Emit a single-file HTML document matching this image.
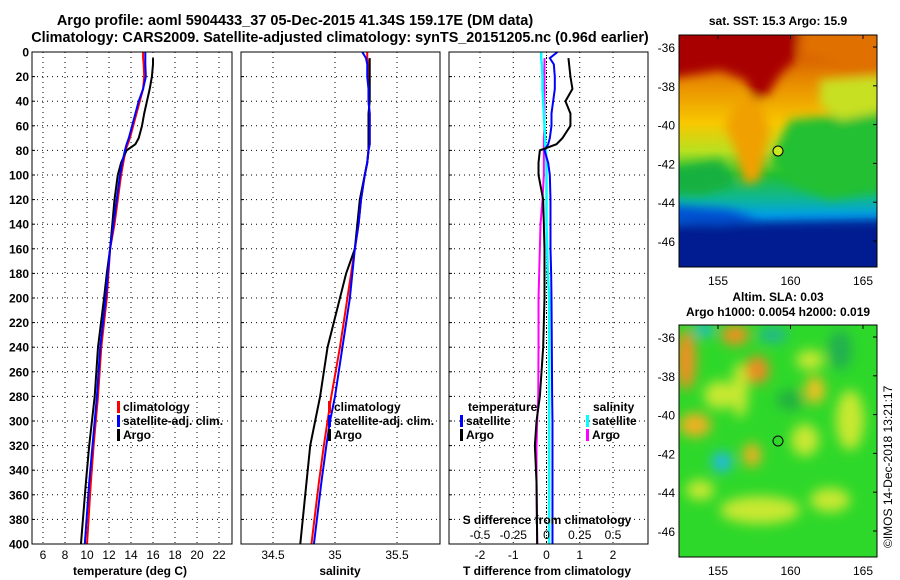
<!DOCTYPE html>
<html><head><meta charset="utf-8"><style>
body{margin:0;background:#fff;}
svg{display:block;font-family:"Liberation Sans",sans-serif;font-weight:bold;}
text{fill:#000;}
</style></head><body>
<svg id="c" width="900" height="580" viewBox="0 0 900 580">
<defs>
<filter id="bl" x="-50%" y="-50%" width="200%" height="200%"><feGaussianBlur stdDeviation="6"/></filter>
<filter id="bl2" x="-50%" y="-50%" width="200%" height="200%"><feGaussianBlur stdDeviation="5"/></filter>
<linearGradient id="sstg" x1="0" y1="0" x2="0" y2="1">
<stop offset="0" stop-color="#c83a00"/><stop offset="0.2" stop-color="#e88a00"/><stop offset="0.38" stop-color="#f8c800"/>
<stop offset="0.5" stop-color="#b8e020"/><stop offset="0.6" stop-color="#22c030"/><stop offset="0.7" stop-color="#10b890"/>
<stop offset="0.78" stop-color="#00a0e8"/><stop offset="0.86" stop-color="#0050d0"/><stop offset="0.94" stop-color="#001890"/><stop offset="1" stop-color="#001080"/>
</linearGradient>
<clipPath id="m1"><rect x="679" y="35" width="198" height="232"/></clipPath>
<clipPath id="m2"><rect x="679" y="325" width="198" height="232"/></clipPath>
</defs>
<text x="295" y="25" font-size="14.5" text-anchor="middle">Argo profile: aoml 5904433_37 05-Dec-2015 41.34S 159.17E (DM data)</text>
<text x="340" y="42" font-size="14.4" text-anchor="middle">Climatology: CARS2009. Satellite-adjusted climatology: synTS_20151205.nc (0.96d earlier)</text>
<g id="panels"></g>
<g>
<text x="778" y="25" font-size="12" text-anchor="middle">sat. SST: 15.3 Argo: 15.9</text>
<g clip-path="url(#m1)">
<rect x="679" y="35" width="198" height="232" fill="url(#sstg)"/>
<g filter="url(#bl2)">
<path d="M660 20 H800 L795 60 L780 75 L768 95 L755 100 L745 80 L720 70 L690 75 L660 80Z" fill="#a80000"/>
<path d="M800 20 H890 V70 L850 75 L820 60 L800 55Z" fill="#e07000"/>
<path d="M740 95 L760 100 L770 130 L760 180 L745 185 L735 150 L725 125Z" fill="#f0a000"/>
<path d="M790 120 L890 110 V190 L830 200 L790 185 L770 160Z" fill="#20c030"/>
<path d="M820 80 L890 75 V110 L840 120 L820 105Z" fill="#c8e020"/>
<path d="M660 170 L720 160 L735 185 L700 195 L660 192Z" fill="#18b040"/>
<path d="M660 225 L890 220 V290 H660Z" fill="#001a90"/>
<path d="M660 205 L730 210 L760 220 L720 225 L660 222Z" fill="#0050d0"/>
</g>
</g>
<rect x="679" y="35" width="198" height="232" fill="none" stroke="#000"/>
<circle cx="778" cy="151" r="5" fill="#c8e820" stroke="#000"/>
</g>
<g>
<text x="778" y="301" font-size="12" text-anchor="middle">Altim. SLA: 0.03</text>
<text x="778" y="316" font-size="12" text-anchor="middle">Argo h1000: 0.0054 h2000: 0.019</text>
<g clip-path="url(#m2)">
<rect x="679" y="325" width="198" height="232" fill="#2ed82a"/>
<g filter="url(#bl)">
<ellipse cx="686" cy="360" rx="10" ry="30" fill="#f09020"/>
<ellipse cx="735" cy="335" rx="14" ry="10" fill="#f09020"/>
<ellipse cx="757" cy="370" rx="12" ry="14" fill="#ee8a20"/>
<ellipse cx="815" cy="390" rx="10" ry="14" fill="#f0c020"/>
<ellipse cx="695" cy="425" rx="16" ry="12" fill="#f0b020"/>
<ellipse cx="752" cy="455" rx="9" ry="12" fill="#f0b020"/>
<ellipse cx="722" cy="462" rx="10" ry="10" fill="#20b8e8"/>
<ellipse cx="773" cy="335" rx="15" ry="8" fill="#20b890"/>
<ellipse cx="704" cy="330" rx="10" ry="6" fill="#20b8e0"/>
<ellipse cx="805" cy="440" rx="14" ry="16" fill="#c8e830"/>
<ellipse cx="720" cy="395" rx="16" ry="14" fill="#c8e830"/>
<ellipse cx="740" cy="390" rx="8" ry="28" fill="#c8e830"/>
<ellipse cx="850" cy="420" rx="14" ry="30" fill="#c8e830"/>
<ellipse cx="760" cy="510" rx="40" ry="14" fill="#c8e830"/>
<ellipse cx="830" cy="500" rx="20" ry="12" fill="#c8e830"/>
<ellipse cx="810" cy="360" rx="14" ry="10" fill="#c8e830"/>
<ellipse cx="700" cy="490" rx="14" ry="10" fill="#c8e830"/>
<ellipse cx="790" cy="400" rx="14" ry="10" fill="#20b040"/>
<ellipse cx="840" cy="350" rx="12" ry="20" fill="#20b050"/>
</g>
</g>
<rect x="679" y="325" width="198" height="232" fill="none" stroke="#000"/>
<circle cx="778" cy="441" r="5" fill="none" stroke="#000"/>
<text transform="translate(892,548) rotate(-90)" font-size="12" font-weight="normal">©IMOS 14-Dec-2018 13:21:17</text>
</g>
<g id="mapaxes"></g>
</svg>
<script>
// depth levels (m)
const depths = [0,5,10,20,30,40,50,60,70,75,80,90,100,120,140,160,180,200,240,280,300,320,350,400];
// temperature (deg C)
const tempClim = [15.1,15.1,15.15,15.2,15.1,14.8,14.5,14.2,13.9,13.7,13.5,13.3,13.1,12.8,12.5,12.1,11.95,11.8,11.3,11.0,10.8,10.6,10.35,10.0];
const tempSat  = [15.3,15.3,15.3,15.35,15.1,14.7,14.4,14.1,13.8,13.6,13.45,13.2,13.0,12.7,12.4,12.1,11.9,11.7,11.2,10.9,10.7,10.5,10.2,9.8];
const tempArgo = [null,16.0,16.0,15.9,15.7,15.45,15.2,15.0,14.7,14.4,13.6,13.1,12.8,12.5,12.3,12.1,11.8,11.55,11.0,10.7,10.45,10.2,9.9,9.45];
// salinity (PSU)
const salClim = [35.26,35.26,35.27,35.27,35.27,35.27,35.28,35.28,35.28,35.28,35.27,35.26,35.24,35.21,35.19,35.16,35.13,35.10,35.04,34.97,34.94,34.91,34.87,34.81];
const salSat  = [35.22,35.25,35.26,35.26,35.27,35.27,35.28,35.28,35.28,35.28,35.27,35.26,35.24,35.21,35.19,35.16,35.14,35.12,35.06,35.00,34.96,34.93,34.89,34.83];
const salArgo = [null,35.28,35.28,35.28,35.28,35.28,35.27,35.27,35.27,35.27,35.27,35.26,35.24,35.20,35.18,35.16,35.09,35.04,34.94,34.88,34.84,34.80,34.77,34.72];
// differences from climatology
const tdiffSat  = [0.33,0.1,0.22,0.25,0.25,0.2,0.15,0.15,0.1,0.05,-0.06,0.05,0.1,0.12,0.12,0.12,0.14,0.15,0.16,0.17,0.18,0.18,0.18,0.18];
const tdiffArgo = [null,0.66,0.68,0.72,0.78,0.57,0.72,0.72,0.48,0.3,-0.2,-0.24,-0.24,-0.1,-0.08,-0.06,-0.06,-0.06,-0.1,-0.2,-0.3,-0.35,-0.3,-0.28];
const sdiffSat  = [-0.04,-0.04,-0.035,-0.03,-0.03,-0.025,-0.02,-0.015,-0.01,-0.01,-0.005,0,0,0,0,0.005,0.01,0.02,0.02,0.02,0.02,0.02,0.02,0.02];
const sdiffArgo = [null,-0.015,-0.015,-0.015,-0.015,-0.015,-0.015,-0.015,-0.02,-0.02,-0.02,-0.02,-0.02,-0.03,-0.045,-0.05,-0.055,-0.06,-0.06,-0.062,-0.07,-0.075,-0.075,-0.07];
const depthTicks = [0,20,40,60,80,100,120,140,160,180,200,220,240,260,280,300,320,340,360,380,400];
const tempTicks = [6,8,10,12,14,16,18,20,22];
const salTicks = [34.5,35,35.5];
const tdTicks = [-2,-1,0,1,2];
const sdTicks = [-0.5,-0.25,0,0.25,0.5];
const latTicks = [-36,-38,-40,-42,-44,-46];
const lonTicks = [155,160,165];

const NS='http://www.w3.org/2000/svg';
const P=document.getElementById('panels');
function mk(tag,attrs,parent,txt){const e=document.createElementNS(NS,tag);for(const k in attrs)e.setAttribute(k,attrs[k]);if(txt!==undefined)e.textContent=txt;(parent||P).appendChild(e);return e;}
const Y0=52,Y1=544;
const yD=d=>Y0+(Y1-Y0)*d/400;
function panel(x0,x1,v0,v1){return v=>x0+(x1-x0)*(v-v0)/(v1-v0);}
const xT=panel(43,219,6,22);
const xS=panel(273,397,34.5,35.5);
const xTd=panel(480,613,-2,2);
const xSd=panel(480,613,-0.5,0.5);
const boxes=[[32,232,'temperature-panel'],[241,440,'salinity-panel'],[449,648,'difference-panel']];

function grid(x0,x1,xs){
  depthTicks.forEach(d=>{if(d>0&&d<400){const l=mk('line',{x1:x0,x2:x1,y1:yD(d),y2:yD(d),stroke:'#000','stroke-dasharray':'1 4'});
  
  }});
  xs.forEach(x=>{const l=mk('line',{x1:x,x2:x,y1:Y0,y2:Y1,stroke:'#000','stroke-dasharray':'1 4'});
  
  });
}
grid(32,232,tempTicks.map(xT));
grid(241,440,salTicks.map(xS));
grid(449,648,tdTicks.map(xTd));
mk('line',{x1:xTd(0),x2:xTd(0),y1:Y0,y2:Y1,stroke:'#000','stroke-dasharray':'1 2'});

function series(xs,vals,color,name,w){
  let pts=[];
  vals.forEach((v,i)=>{if(v===null)return;pts.push(xs(v)+','+yD(depths[i]));});
  const e=mk('polyline',{points:pts.join(' '),fill:'none',stroke:color,'stroke-width':w||2});
  
  
}
series(xT,tempClim,'#ff0000','temp-climatology-line');
series(xT,tempArgo,'#000','temp-argo-line');
series(xT,tempSat,'#0000ff','temp-satellite-line');
series(xS,salClim,'#ff0000','sal-climatology-line');
series(xS,salArgo,'#000','sal-argo-line');
series(xS,salSat,'#0000ff','sal-satellite-line');
series(xSd,sdiffArgo,'#ff00ff','sdiff-argo-line');
series(xSd,sdiffSat,'#00ffff','sdiff-satellite-line',2.5);
series(xTd,tdiffSat,'#0000ff','tdiff-satellite-line');
series(xTd,tdiffArgo,'#000','tdiff-argo-line');

boxes.forEach(b=>{const r=mk('rect',{x:b[0],y:Y0,width:b[1]-b[0],height:Y1-Y0,fill:'none',stroke:'#000'});

});
depthTicks.forEach(d=>{const t=mk('text',{x:29,y:yD(d)+4.5,'font-size':12,'text-anchor':'end'},P,String(d));


[32,241,449].forEach(x=>mk('line',{x1:x,x2:x+3,y1:yD(d),y2:yD(d),stroke:'#000'}));});
function xlabels(ticks,f,y){ticks.forEach(v=>{const t=mk('text',{x:f(v),y:y,'font-size':12,'text-anchor':'middle','font-weight':'normal'},P,String(v));

});}
xlabels(tempTicks,xT,559);
xlabels(salTicks,xS,559);
xlabels(tdTicks,xTd,559);
xlabels(sdTicks,xSd,539);
function lbl(x,y,s,name,anchor){const t=mk('text',{x:x,y:y,'font-size':12,'text-anchor':anchor||'middle'},P,s);

}
lbl(130,575,'temperature (deg C)','temperature-axis-title');
lbl(340,575,'salinity','salinity-axis-title');
lbl(547,575,'T difference from climatology','tdiff-axis-title');
lbl(547,524,'S difference from climatology','sdiff-axis-title');
function leg(x,y,color,s,name){mk('rect',{x:x,y:y-10,width:3,height:12,fill:color});lbl(x+6,y,s,name,'start');}
leg(117,411,'#ff0000','climatology','legend-climatology');
leg(117,425,'#0000ff','satellite-adj. clim.','legend-satellite');
leg(117,439,'#000','Argo','legend-argo');
leg(328,411,'#ff0000','climatology','legend-climatology-sal');
leg(328,425,'#0000ff','satellite-adj. clim.','legend-satellite-sal');
leg(328,439,'#000','Argo','legend-argo-sal');
lbl(468,411,'temperature','legend-temperature-heading','start');
leg(460,425,'#0000ff','satellite','legend-tdiff-satellite');
leg(460,439,'#000','Argo','legend-tdiff-argo');
lbl(593,411,'salinity','legend-salinity-heading','start');
leg(586,425,'#00ffff','satellite','legend-sdiff-satellite');
leg(586,439,'#ff00ff','Argo','legend-sdiff-argo');
const M=document.getElementById('mapaxes');
const lonX=v=>718+(v-155)*14.5;
[[35,47],[325,337]].forEach(([top,lat0])=>{
  latTicks.forEach(l=>{const y=lat0+(-36-l)*19.4;
    mk('line',{x1:873,x2:877,y1:y,y2:y,stroke:'#000'},M);
    const t=mk('text',{x:675,y:y+5,'font-size':12,'font-weight':'normal','text-anchor':'end'},M,String(l));
    
    });
  lonTicks.forEach(v=>{mk('line',{x1:lonX(v),x2:lonX(v),y1:top,y2:top+4,stroke:'#000'},M);
    const t=mk('text',{x:lonX(v),y:top+250,'font-size':12,'font-weight':'normal','text-anchor':'middle'},M,String(v));
    
    });
});
</script>
</body></html>
